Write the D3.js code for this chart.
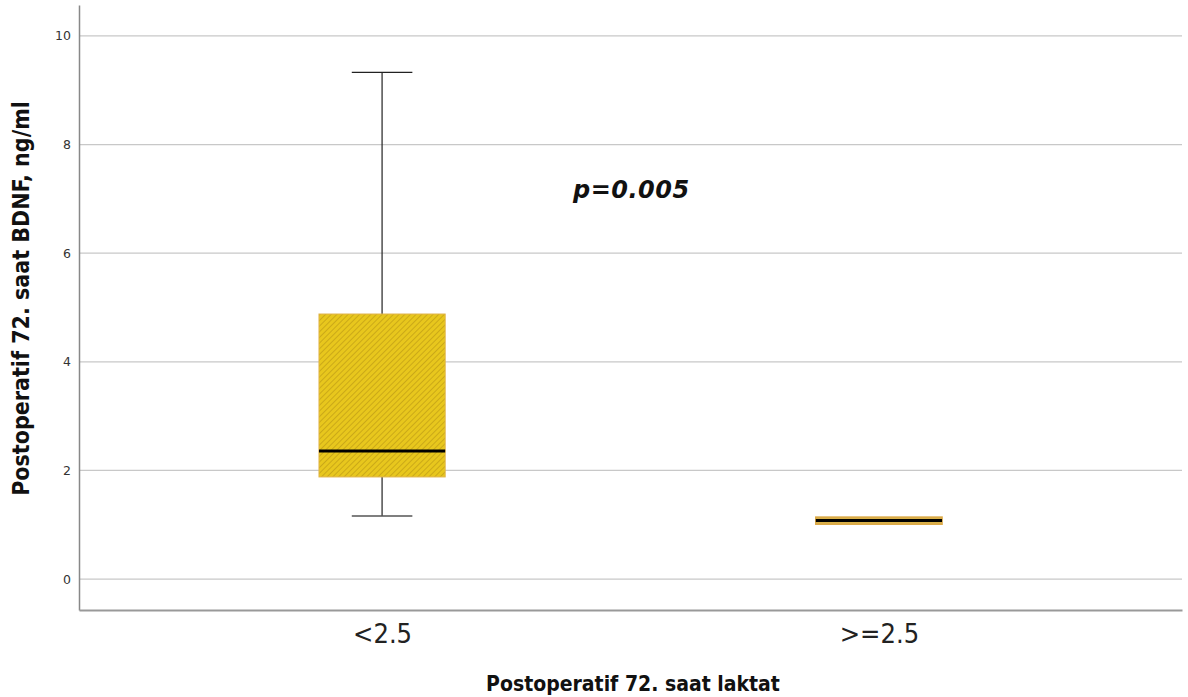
<!DOCTYPE html>
<html>
<head>
<meta charset="utf-8">
<script src="https://cdn.jsdelivr.net/npm/d3@7"></script>
<style>
  body { margin: 0; background: #fff; }
  .grid line { stroke: #c8c8c8; stroke-width: 1.3; }
  .tick-y { font-family: "DejaVu Sans", sans-serif; font-size: 12.5px; fill: #333; }
  .tick-x { font-family: "DejaVu Sans Condensed", "DejaVu Sans", sans-serif; font-size: 27px; fill: #222; }
  .axis-title { font-family: "DejaVu Sans Condensed", "DejaVu Sans", sans-serif; font-weight: bold; font-size: 21px; fill: #111; }
</style>
</head>
<body>
<div id="viz-area"></div>
<script>
// box plot values
const categories = ["<2.5", ">=2.5"];
const whiskerLow  = [1.16, 1.08];
const q1          = [1.88, 1.01];
const median      = [2.36, 1.08];
const q3          = [4.88, 1.14];
const whiskerHigh = [9.33, 1.08];
const yTicks      = [0, 2, 4, 6, 8, 10];
const annotation  = "p=0.005";

const W = 1188, H = 697;
const MARGIN = { LEFT: 79, RIGHT: 6, TOP: 5, BOTTOM: 87 };

const svg = d3.select("#viz-area").append("svg")
  .attr("width", W).attr("height", H);

// hatch pattern for boxes
const defs = svg.append("defs");
const pat = defs.append("pattern")
  .attr("id", "hatch")
  .attr("patternUnits", "userSpaceOnUse")
  .attr("width", 4).attr("height", 4)
  .attr("patternTransform", "rotate(45)");
pat.append("rect").attr("width", 4).attr("height", 4).attr("fill", "#e8c71d");
pat.append("line").attr("x1", 0).attr("y1", 0).attr("x2", 0).attr("y2", 4)
  .attr("stroke", "#c4a216").attr("stroke-width", 1.6);

const x = d3.scalePoint()
  .domain(categories)
  .range([MARGIN.LEFT, W - MARGIN.RIGHT])
  .padding(0.61);

const y = d3.scaleLinear()
  .domain([-0.57, 10.57])
  .range([H - MARGIN.BOTTOM, MARGIN.TOP]);

const boxW = x.step() * 0.254;
const capW = boxW * 0.48;

// gridlines
svg.append("g").attr("class", "grid")
  .selectAll("line").data(yTicks).enter().append("line")
  .attr("x1", MARGIN.LEFT).attr("x2", W - MARGIN.RIGHT)
  .attr("y1", d => y(d)).attr("y2", d => y(d));

// y axis
const yAxis = svg.append("g")
  .attr("transform", `translate(${MARGIN.LEFT},0)`)
  .call(d3.axisLeft(y).tickValues(yTicks).tickSize(0).tickPadding(8).tickFormat(d3.format("d")));
yAxis.select(".domain").attr("stroke", "#888").attr("stroke-width", 1.5);
yAxis.selectAll("text").attr("class", "tick-y").attr("font-family", null).attr("font-size", null).attr("fill", null);

// x axis
const xAxis = svg.append("g")
  .attr("transform", `translate(0,${H - MARGIN.BOTTOM})`)
  .call(d3.axisBottom(x).tickSize(0).tickPadding(14));
xAxis.select(".domain").attr("stroke", "#999").attr("stroke-width", 2.2);
xAxis.selectAll("text").attr("class", "tick-x").attr("font-family", null).attr("font-size", null).attr("fill", null);

// boxes
const data = categories.map((c, i) => ({
  cat: c, lo: whiskerLow[i], q1: q1[i], med: median[i], q3: q3[i], hi: whiskerHigh[i]
}));

const g = svg.append("g").selectAll("g").data(data).enter().append("g");

// whiskers
g.filter(d => d.hi > d.q3).append("line")
  .attr("x1", d => x(d.cat)).attr("x2", d => x(d.cat))
  .attr("y1", d => y(d.hi)).attr("y2", d => y(d.q3))
  .attr("stroke", "#222").attr("stroke-width", 1.2);
g.filter(d => d.lo < d.q1).append("line")
  .attr("x1", d => x(d.cat)).attr("x2", d => x(d.cat))
  .attr("y1", d => y(d.q1)).attr("y2", d => y(d.lo))
  .attr("stroke", "#222").attr("stroke-width", 1.2);
g.filter(d => d.hi > d.q3).append("line")
  .attr("x1", d => x(d.cat) - capW / 2).attr("x2", d => x(d.cat) + capW / 2)
  .attr("y1", d => y(d.hi)).attr("y2", d => y(d.hi))
  .attr("stroke", "#222").attr("stroke-width", 1.2);
g.filter(d => d.lo < d.q1).append("line")
  .attr("x1", d => x(d.cat) - capW / 2).attr("x2", d => x(d.cat) + capW / 2)
  .attr("y1", d => y(d.lo)).attr("y2", d => y(d.lo))
  .attr("stroke", "#555").attr("stroke-width", 1.6);

// box
g.append("rect")
  .attr("x", d => x(d.cat) - boxW / 2)
  .attr("width", boxW)
  .attr("y", d => y(d.q3))
  .attr("height", d => y(d.q1) - y(d.q3))
  .attr("fill", (d, i) => i === 0 ? "url(#hatch)" : "#d9b24a")
  .attr("stroke", (d, i) => i === 0 ? "#e0b44a" : "#dba948")
  .attr("stroke-width", (d, i) => i === 0 ? 1 : 1.6);

// median
g.append("line")
  .attr("x1", d => x(d.cat) - boxW / 2).attr("x2", d => x(d.cat) + boxW / 2)
  .attr("y1", d => y(d.med)).attr("y2", d => y(d.med))
  .attr("stroke", "#000").attr("stroke-width", 3);

// p-value annotation
svg.append("text")
  .attr("x", 573).attr("y", 198)
  .attr("font-family", "DejaVu Sans, sans-serif")
  .attr("font-weight", "bold").attr("font-style", "italic")
  .attr("font-size", 24).attr("letter-spacing", 0.5).attr("fill", "#111")
  .text(annotation);

// axis titles
svg.append("text").attr("class", "axis-title")
  .attr("x", 633).attr("y", 691)
  .attr("text-anchor", "middle")
  .text("Postoperatif 72. saat laktat");

svg.append("text").attr("class", "axis-title")
  .attr("transform", `translate(29,${(y(-0.57) + y(10.57)) / 2 - 9}) rotate(-90)`)
  .attr("text-anchor", "middle")
  .style("font-size", "23px")
  .text("Postoperatif 72. saat BDNF, ng/ml");
</script>
</body>
</html>
